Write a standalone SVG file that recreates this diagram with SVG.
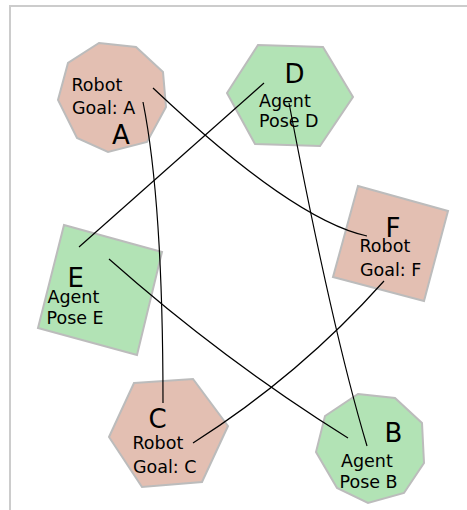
<svg xmlns="http://www.w3.org/2000/svg" width="467" height="510" viewBox="0 0 467 510">
  <style>
    .robot { fill: #e3bfb2; stroke: #bcbcbc; stroke-width: 2; }
    .agent { fill: #b2e3b5; stroke: #bcbcbc; stroke-width: 2; }
    .lbl { font-family: "DejaVu Sans", sans-serif; font-size: 17.5px; fill: #000; }
    .big { font-family: "DejaVu Sans", sans-serif; font-size: 26px; fill: #000; }
    .link { fill: none; stroke: #000; stroke-width: 1.2; }
  </style>
  <rect x="0" y="0" width="467" height="510" fill="#fff"/>
  <rect x="10" y="6" width="470" height="520" fill="none" stroke="#cccccc" stroke-width="2"/>

  <g id="node-A">
    <polygon class="robot" points="99,43 136,47 163,72 166,107 147,142 108,152 77,138 58,100 68,63"/>
    <text class="lbl" x="71.5" y="91">Robot</text>
    <text class="lbl" x="72" y="114">Goal: A</text>
    <text class="big" x="112" y="144">A</text>
  </g>

  <g id="node-D">
    <polygon class="agent" points="258,45 323,47 353,97 320,146 255,144 227,93"/>
    <text class="big" x="284.5" y="83">D</text>
    <text class="lbl" x="259" y="107">Agent</text>
    <text class="lbl" x="259" y="127">Pose D</text>
  </g>

  <g id="node-F">
    <polygon class="robot" points="358,186 448,211 424,301 333,277"/>
    <text class="big" x="385.5" y="237">F</text>
    <text class="lbl" x="359.5" y="252">Robot</text>
    <text class="lbl" x="360" y="276">Goal: F</text>
  </g>

  <g id="node-E">
    <polygon class="agent" points="64,225 162,252 137,355 38,328"/>
    <text class="big" x="67.5" y="287">E</text>
    <text class="lbl" x="47.5" y="303">Agent</text>
    <text class="lbl" x="46.5" y="324">Pose E</text>
  </g>

  <g id="node-C">
    <polygon class="robot" points="134,383 193,379 228,426 202,482 142,487 109,437"/>
    <text class="big" x="148.5" y="428">C</text>
    <text class="lbl" x="132.5" y="449">Robot</text>
    <text class="lbl" x="133" y="473">Goal: C</text>
  </g>

  <g id="node-B">
    <polygon class="agent" points="358,394 395,398 422,423 424,463 404,493 368,503 337,488 316,452 325,416"/>
    <text class="big" x="384.5" y="442">B</text>
    <text class="lbl" x="341" y="467">Agent</text>
    <text class="lbl" x="339.5" y="488">Pose B</text>
  </g>

  <g id="connectors">
    <path class="link" d="M153,88 Q293,220 367,236"/>
    <path class="link" d="M143,102 Q163,202 163,403"/>
    <path class="link" d="M264,83 L79,247"/>
    <path class="link" d="M289,103 Q332,329 367,446"/>
    <path class="link" d="M109,259 Q223,360 348,438"/>
    <path class="link" d="M384,281 Q300,375 193,443"/>
  </g>
</svg>
